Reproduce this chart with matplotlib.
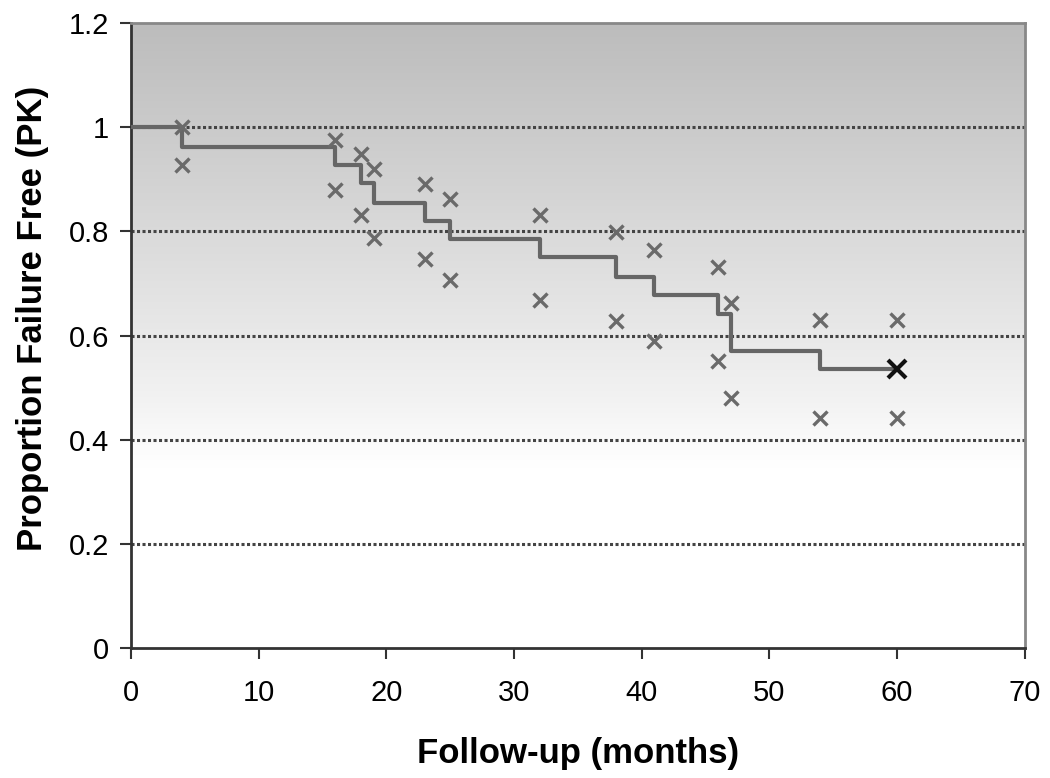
import numpy as np
import matplotlib
matplotlib.use('Agg')
import matplotlib.pyplot as plt
from matplotlib.colors import LinearSegmentedColormap

plt.rcParams['font.family'] = ['Liberation Sans', 'DejaVu Sans']

# Kaplan-Meier step curve (months, proportion failure free)
step_months = [0, 4, 16, 18, 19, 23, 25, 32, 38, 41, 46, 47, 54, 60]
step_surv = [1.0, 0.962, 0.927, 0.892, 0.855, 0.820, 0.786, 0.750,
             0.713, 0.677, 0.641, 0.570, 0.535, 0.535]

# confidence bounds at each event time
ci_months = [4, 16, 18, 19, 23, 25, 32, 38, 41, 46, 47, 54, 60]
ci_upper = [1.0, 0.975, 0.948, 0.919, 0.891, 0.862, 0.831, 0.799,
            0.764, 0.732, 0.663, 0.629, 0.629]
ci_lower = [0.927, 0.879, 0.831, 0.787, 0.747, 0.707, 0.669, 0.627,
            0.590, 0.552, 0.480, 0.441, 0.441]

end_month = [60]
end_surv = [0.535]

fig = plt.figure(figsize=(10.5, 7.78), dpi=100)
ax = fig.add_axes([0.1248, 0.167, 0.851, 0.8035])

# gray gradient background: darker at top, white below ~0.35
grad = np.linspace(0, 1, 256).reshape(-1, 1)
cmap = LinearSegmentedColormap.from_list(
    'bg', [(0.0, '#ffffff'), (0.29, '#ffffff'), (0.40, '#f2f2f2'),
           (0.75, '#d2d2d2'), (1.0, '#bcbcbc')])
ax.imshow(grad, cmap=cmap, origin='lower', aspect='auto',
          extent=[0, 70, 0, 1.2], zorder=0)

for yv in [0.2, 0.4, 0.6, 0.8, 1.0]:
    ax.axhline(yv, color='#444444', lw=2.2, ls=(0, (1, 0.8)), zorder=1)

ax.step(step_months, step_surv, where='post', color='#666666', lw=3, zorder=3)
ax.plot(ci_months, ci_upper, 'x', color='#6a6a6a', ms=10, mew=2.4, zorder=4)
ax.plot(ci_months, ci_lower, 'x', color='#6a6a6a', ms=10, mew=2.4, zorder=4)
ax.plot(end_month, end_surv, 'x', color='#111111', ms=13, mew=3, zorder=5)

ax.set_xlim(0, 70)
ax.set_ylim(0, 1.2)
ax.set_xticks(range(0, 71, 10))
ax.set_yticks([0, 0.2, 0.4, 0.6, 0.8, 1.0, 1.2])
ax.set_yticklabels(['0', '0.2', '0.4', '0.6', '0.8', '1', '1.2'])
ax.tick_params(axis='both', labelsize=21, length=8, width=1.5,
               color='#333333', direction='out')
ax.tick_params(axis='x', pad=14)
ax.tick_params(axis='y', pad=8)

for side in ['top', 'right']:
    ax.spines[side].set_color('#888888')
    ax.spines[side].set_linewidth(2)
for side in ['left', 'bottom']:
    ax.spines[side].set_color('#333333')
    ax.spines[side].set_linewidth(2)

ax.set_xlabel('Follow-up (months)', fontsize=25, fontweight='bold', labelpad=22)
ax.set_ylabel('Proportion Failure Free (PK)', fontsize=25, fontweight='bold')
ax.yaxis.set_label_coords(-0.092, 0.527)

fig.savefig('out.png', dpi=100)
